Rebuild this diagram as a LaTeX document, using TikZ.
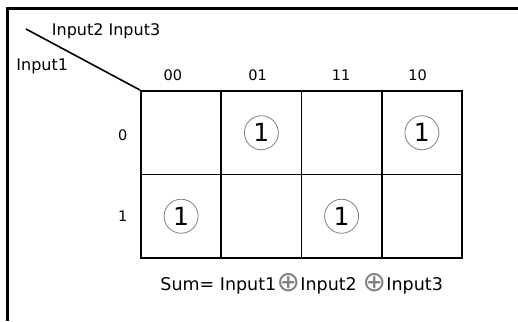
\documentclass[tikz,border=0pt]{standalone}
\usepackage{fontspec}
\setmainfont{DejaVu Sans}
\newcommand{\xorsym}{\hspace{0.3pt}\raisebox{-1pt}{\fontsize{28}{28}\selectfont\color{gray}⊕}\hspace{0.3pt}}
\begin{document}
\begin{tikzpicture}[x=1pt,y=-1pt,
  hdr/.style={font=\fontsize{16}{18}\selectfont, inner sep=0pt, anchor=base west},
  lbl/.style={font=\fontsize{14.5}{16}\selectfont, inner sep=0pt},
  cell/.style={rectangle, draw, line width=1.8pt, minimum width=80.25pt, minimum height=83.5pt, inner sep=0pt},
  one/.style={circle, draw=gray, line width=0.8pt, minimum size=34pt, inner sep=0pt, font=\fontsize{25}{27}\selectfont},
  frame/.style={line width=3pt}]
\useasboundingbox (0,0) rectangle (518,321);
\draw[frame] (7,321) -- (7,9) -- (518,9);
% cells
\node[cell] (c11) at (181.1,132.75) {};
\node[cell] (c12) at (261.4,132.75) {};
\node[cell] (c13) at (341.6,132.75) {};
\node[cell] (c14) at (421.9,132.75) {};
\node[cell] (c21) at (181.1,216.25) {};
\node[cell] (c22) at (261.4,216.25) {};
\node[cell] (c23) at (341.6,216.25) {};
\node[cell] (c24) at (421.9,216.25) {};
% ones
\node[one] (o12) at (c12.center) {1};
\node[one] (o14) at (c14.center) {1};
\node[one] (o21) at (c21.center) {1};
\node[one] (o23) at (c23.center) {1};
% diagonal
\coordinate (d) at (26,29);
\draw[line width=1.6pt] (d) -- (c11.north west);
% headers
\node[hdr] (h23) at (51.7,35.7) {Input2 Input3};
\node[hdr] (h1) at (16.2,70) {Input1};
% column labels
\node[lbl, anchor=base] (l00) at (172.9,80.7) {00};
\node[lbl, anchor=base] (l01) at (257.7,80.7) {01};
\node[lbl, anchor=base] (l11) at (341,80.7) {11};
\node[lbl, anchor=base] (l10) at (417.7,80.7) {10};
% row labels
\node[lbl] (r0) at (122.7,135.7) {0};
\node[lbl] (r1) at (122.7,216.7) {1};
% formula
\node[hdr, font=\fontsize{17.5}{20}\selectfont] (sum) at (160.2,290.7) {Sum= Input1\xorsym Input2 \xorsym Input3};
\end{tikzpicture}
\end{document}
